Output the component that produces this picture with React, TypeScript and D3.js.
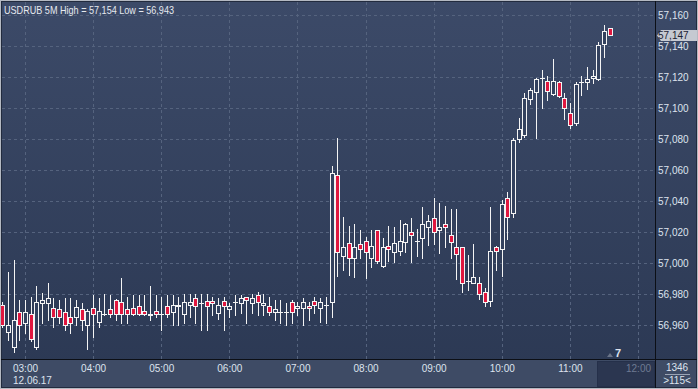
import React from "react";
import * as d3 from "d3";

const SYMBOL = "USDRUB";
const PERIOD = "5M";
const START_TIME = new Date(2017, 5, 12, 2, 40);
const STEP_MIN = 5;

const OPEN = [56.9731,56.9557,56.9460,56.9686,56.9613,56.9673,56.9460,56.9744,56.9744,56.9712,56.9705,56.9686,56.9654,56.9654,56.9705,56.9602,56.9712,56.9621,56.9673,56.9705,56.9763,56.9750,56.9705,56.9712,56.9725,56.9692,56.9666,56.9692,56.9673,56.9725,56.9688,56.9725,56.9673,56.9731,56.9776,56.9744,56.9757,56.9757,56.9679,56.9757,56.9705,56.9750,56.9744,56.9783,56.9744,56.9795,56.9731,56.9725,56.9686,56.9686,56.9684,56.9750,56.9712,56.9712,56.9725,56.9757,56.9712,56.9731,56.9750,57.0568,57.0049,57.0129,57.0036,57.0123,57.0144,57.0032,57.0215,56.9983,57.0110,57.0071,57.0081,57.0139,57.0200,57.0146,57.0161,57.0236,57.0290,57.0215,57.0254,57.0183,57.0103,57.0103,56.9888,56.9871,56.9871,56.9817,56.9759,57.0103,57.0090,57.0419,57.0323,57.0800,57.0828,57.1058,57.1107,57.1194,57.1174,57.1094,57.1168,57.1065,57.0972,57.0907,57.1172,57.1168,57.1194,57.1187,57.1413,57.1516];
const HIGH = [56.9750,56.9946,57.0021,56.9763,56.9763,56.9785,56.9854,56.9808,56.9873,56.9776,56.9763,56.9776,56.9776,56.9763,56.9744,56.9705,56.9795,56.9776,56.9802,56.9795,56.9770,56.9905,56.9783,56.9795,56.9795,56.9795,56.9854,56.9795,56.9785,56.9795,56.9795,56.9785,56.9802,56.9802,56.9802,56.9802,56.9802,56.9785,56.9776,56.9785,56.9744,56.9795,56.9795,56.9785,56.9802,56.9817,56.9802,56.9785,56.9763,56.9763,56.9744,56.9763,56.9752,56.9776,56.9752,56.9785,56.9776,56.9785,57.0628,57.0806,57.0297,57.0241,57.0252,57.0215,57.0168,57.0215,57.0215,57.0163,57.0241,57.0232,57.0279,57.0262,57.0290,57.0221,57.0361,57.0312,57.0419,57.0391,57.0370,57.0348,57.0348,57.0103,57.0054,57.0125,56.9910,56.9839,57.0361,57.0114,57.0408,57.0458,57.0808,57.0939,57.1101,57.1133,57.1194,57.1247,57.1208,57.1316,57.1176,57.1097,57.1036,57.1172,57.1208,57.1265,57.1247,57.1428,57.1540,57.1516];
const LOW = [56.9590,56.9505,56.9430,56.9505,56.9550,56.9499,56.9447,56.9615,56.9634,56.9589,56.9615,56.9570,56.9550,56.9602,56.9570,56.9447,56.9525,56.9589,56.9666,56.9654,56.9634,56.9615,56.9615,56.9666,56.9666,56.9666,56.9634,56.9654,56.9570,56.9654,56.9602,56.9602,56.9615,56.9655,56.9615,56.9570,56.9570,56.9666,56.9641,56.9570,56.9655,56.9666,56.9679,56.9615,56.9679,56.9666,56.9666,56.9666,56.9634,56.9615,56.9602,56.9615,56.9666,56.9602,56.9634,56.9679,56.9623,56.9615,56.9655,56.9920,56.9957,56.9925,56.9914,57.0032,56.9903,56.9978,57.0002,56.9976,57.0017,57.0010,57.0054,57.0075,57.0010,57.0047,57.0036,57.0118,57.0123,57.0068,57.0107,57.0037,56.9899,56.9817,56.9828,56.9871,56.9768,56.9726,56.9726,56.9957,56.9918,57.0157,57.0297,57.0783,57.0817,57.1026,57.0806,57.1004,57.1054,57.1086,57.1073,57.0929,57.0875,57.0892,57.1086,57.1125,57.1165,57.1183,57.1329,57.1470];
const CLOSE = [56.9602,56.9602,56.9634,56.9602,56.9688,56.9512,56.9750,56.9763,56.9776,56.9654,56.9654,56.9602,56.9615,56.9718,56.9634,56.9692,56.9673,56.9692,56.9673,56.9673,56.9673,56.9673,56.9673,56.9673,56.9673,56.9673,56.9673,56.9673,56.9673,56.9673,56.9731,56.9731,56.9750,56.9750,56.9725,56.9744,56.9725,56.9744,56.9731,56.9725,56.9725,56.9750,56.9776,56.9763,56.9776,56.9750,56.9744,56.9686,56.9705,56.9686,56.9684,56.9686,56.9725,56.9750,56.9712,56.9731,56.9750,56.9731,57.0585,57.0075,57.0103,57.0032,57.0103,57.0090,57.0071,57.0110,57.0015,57.0103,57.0090,57.0129,57.0146,57.0254,57.0181,57.0146,57.0252,57.0273,57.0200,57.0236,57.0232,57.0139,57.0058,56.9871,56.9888,56.9910,56.9800,56.9748,57.0079,57.0079,57.0381,57.0297,57.0795,57.0865,57.1065,57.1116,57.1187,57.1194,57.1110,57.1174,57.1081,57.1000,57.0890,57.1155,57.1172,57.1187,57.1208,57.1408,57.1501,57.1470];

const PRICE_TICKS = [56.96, 56.98, 57.0, 57.02, 57.04, 57.06, 57.08, 57.1, 57.12, 57.14, 57.16];
const SESSION_HIGH = 57.154;
const SESSION_LOW = 56.943;
const DATE_LABEL = "12.06.17";
const FOOT_TOP = "1346";
const FOOT_BOTTOM = ">115<";
const MARKER_LABEL = "7";

const W = 698;
const H = 389;
const PLOT_R = 655;
const PLOT_B = 359;
const FONT = "'Liberation Sans', Arial, sans-serif";

export default function App() {
  const fmt = (v: number) => d3.format(".3f")(v).replace(".", ",");
  const x = d3
    .scaleTime()
    .domain([new Date(2017, 5, 12, 3, 0), new Date(2017, 5, 12, 12, 0)])
    .range([25, 638]);
  const y = d3.scaleLinear().domain([56.96, 57.16]).range([325.3, 15.3]);

  const candles = OPEN.map((o, i) => ({
    t: new Date(START_TIME.getTime() + i * STEP_MIN * 60000),
    o,
    h: HIGH[i],
    l: LOW[i],
    c: CLOSE[i],
  }));
  const hours = x.ticks(d3.timeHour.every(1) as any);
  const last = candles[candles.length - 1];
  const lastY = Math.round(y(last.c));

  return (
    <div style={{ position: "fixed", left: 0, top: 0 }}>
      <svg width={W} height={H} style={{ display: "block" }}>
        <defs>
          <linearGradient id="bg" x1="0" y1="0" x2="0" y2="1">
            <stop offset="0" stopColor="#3c4a68" />
            <stop offset="1" stopColor="#2b3853" />
          </linearGradient>
          <clipPath id="plot">
            <rect x={1} y={1} width={PLOT_R - 1} height={PLOT_B - 1} />
          </clipPath>
        </defs>
        <rect x={0} y={0} width={W} height={H} fill="#b4b9c2" />
        <rect x={1} y={1} width={W - 2} height={H - 2} fill="url(#bg)" />
        <rect x={1} y={360} width={W - 2} height={27} fill="#3e4b65" />
        <rect x={1.5} y={1.5} width={W - 3} height={H - 3} fill="none" stroke="#222b3e" />
        <rect x={597.5} y={361.5} width={57} height={25} fill="#2b3650" stroke="#25304a" />

        {/* grid */}
        <g stroke="#55637e" strokeDasharray="3,3" strokeWidth={1}>
          {PRICE_TICKS.map((p) => (
            <line key={p} x1={2} x2={PLOT_R} y1={Math.round(y(p)) + 0.5} y2={Math.round(y(p)) + 0.5} />
          ))}
          {hours.map((h) => (
            <line key={+h} x1={Math.round(x(h)) + 0.5} x2={Math.round(x(h)) + 0.5} y1={2} y2={PLOT_B} />
          ))}
        </g>

        {/* candles */}
        <g clipPath="url(#plot)">
          {candles.map((d, i) => {
            const R = Math.round(x(d.t));
            const yt = Math.round(y(Math.max(d.o, d.c))) + 0.5;
            const yb = Math.round(y(Math.min(d.o, d.c))) + 0.5;
            const up = d.c >= d.o;
            return (
              <g key={i}>
                <line
                  x1={R + 0.5}
                  x2={R + 0.5}
                  y1={Math.round(y(d.h))}
                  y2={Math.round(y(d.l)) + 1}
                  stroke="#f4f4f4"
                />
                {yb - yt < 1 ? (
                  <line x1={R - 2} x2={R + 3} y1={yt} y2={yt} stroke="#f4f4f4" />
                ) : (
                  <rect
                    x={R - 1.5}
                    y={yt}
                    width={4}
                    height={yb - yt}
                    fill={up ? "#33415e" : "#e0173f"}
                    stroke="#f4f4f4"
                  />
                )}
              </g>
            );
          })}
        </g>

        {/* frame lines */}
        <line x1={PLOT_R + 0.5} x2={PLOT_R + 0.5} y1={1} y2={H - 1} stroke="#0c0f16" />
        <line x1={1} x2={W - 1} y1={PLOT_B + 0.5} y2={PLOT_B + 0.5} stroke="#0c0f16" />

        {/* title */}
        <text x={4} y={14} fontFamily={FONT} fontSize={10.5} fill="#e6e9ef" textLength={170} lengthAdjust="spacingAndGlyphs">
          {`${SYMBOL} ${PERIOD} High = ${fmt(SESSION_HIGH)} Low = ${fmt(SESSION_LOW)}`}
        </text>

        {/* price axis */}
        {PRICE_TICKS.map((p) => (
          <text key={p} x={658} y={y(p) + 4} fontFamily={FONT} fontSize={10} fill="#dde3ee">
            {fmt(p)}
          </text>
        ))}
        <path
          d={`M${PLOT_R + 2},${lastY + 0.5} L${PLOT_R + 6},${lastY - 5} L${W - 1},${lastY - 5} L${W - 1},${lastY + 6} L${PLOT_R + 6},${lastY + 6} Z`}
          fill="#c5c9d1"
        />
        <text x={658} y={lastY + 4} fontFamily={FONT} fontSize={10} fill="#1b2233">
          {fmt(last.c)}
        </text>

        {/* time axis */}
        {hours.map((h) => (
          <text
            key={+h}
            x={x(h) + 0.5}
            y={372}
            textAnchor="middle"
            fontFamily={FONT}
            fontSize={10}
            fill={h.getHours() === 12 ? "#6e7a92" : "#dde3ee"}
          >
            {d3.timeFormat("%H:%M")(h)}
          </text>
        ))}
        <text x={13} y={384} fontFamily={FONT} fontSize={10} fill="#dde3ee">
          {DATE_LABEL}
        </text>

        {/* marker */}
        <path d="M607,357 L610,353 L613,357 Z" fill="#6a7488" />
        <text x={615} y={357} fontFamily={FONT} fontSize={11} fontWeight="bold" fill="#dde3ee">
          {MARKER_LABEL}
        </text>

        {/* footer box */}
        <text x={677} y={371} textAnchor="middle" fontFamily={FONT} fontSize={10} fill="#dde3ee">
          {FOOT_TOP}
        </text>
        <line x1={665} x2={690} y1={374.5} y2={374.5} stroke="#9aa3b4" />
        <text x={677} y={384} textAnchor="middle" fontFamily={FONT} fontSize={10} fill="#dde3ee">
          {FOOT_BOTTOM}
        </text>
      </svg>
    </div>
  );
}
